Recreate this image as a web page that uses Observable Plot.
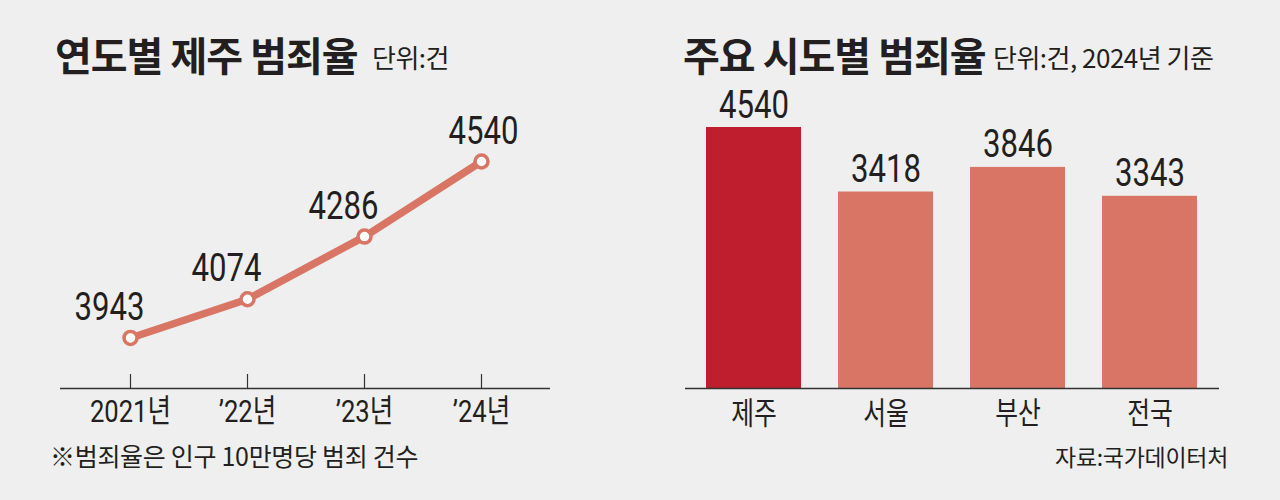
<!DOCTYPE html>
<html>
<head>
<meta charset="utf-8">
<script src="https://cdn.jsdelivr.net/npm/d3@7"></script>
<script src="https://cdn.jsdelivr.net/npm/@observablehq/plot@0.6"></script>
<style>
  html, body { margin: 0; padding: 0; background: #efefef; }
  #wrap { position: relative; width: 1280px; height: 500px; background: #efefef; overflow: hidden;
          font-family: "Noto Sans CJK KR", "Noto Sans", sans-serif; color: #231f20; }
  .title { position: absolute; font-weight: 700; font-size: 40px; line-height: 1; white-space: nowrap; letter-spacing: -1px; }
  .sub { position: absolute; font-weight: 400; font-size: 26px; line-height: 1; white-space: nowrap; letter-spacing: -0.5px; }
  .note { position: absolute; font-weight: 400; font-size: 25px; line-height: 1; white-space: nowrap; letter-spacing: -0.3px; }
  .panel { position: absolute; top: 90px; }
  svg text { fill: #231f20; }
</style>
</head>
<body>
<div id="wrap">
  <div class="title" style="left:55px; top:34px;">연도별 제주 범죄율</div>
  <div class="sub" style="left:372px; top:44px;">단위:건</div>
  <div class="title" style="left:683px; top:34px;">주요 시도별 범죄율</div>
  <div class="sub" style="left:993px; top:44px;">단위:건, 2024년 기준</div>
  <div id="left" class="panel" style="left:0px;"></div>
  <div id="right" class="panel" style="left:640px;"></div>
  <div class="note" style="left:50px; top:443px;">※범죄율은 인구 10만명당 범죄 건수</div>
  <div class="note" style="right:52px; top:445px; font-size:23px;">자료:국가데이터처</div>
</div>
<script>
// ---- data ----
const years = ["2021년", "’22년", "’23년", "’24년"];
const jejuRate = [3943, 4074, 4286, 4540];
const regions = ["제주", "서울", "부산", "전국"];
const regionRate = [4540, 3418, 3846, 3343];
const lineDomain = [3772, 4540];

const salmon = "#d87564";
const crimson = "#be1e2d";
const ink = "#231f20";
const numFont = "Roboto, 'Liberation Sans', sans-serif";
const krFont = "Roboto, 'Noto Sans CJK KR', sans-serif";

const lineData = years.map((y, i) => ({year: y, value: jejuRate[i], i}));
const barData = regions.map((r, i) => ({region: r, value: regionRate[i], i}));

// horizontally condense the text of a mark (reference uses a condensed face)
function condense(svg, label, k) {
  svg.querySelectorAll(`g[aria-label="${label}"] text`).forEach(t => {
    let tr = t.getAttribute("transform");
    if (!tr) {
      const x = +(t.getAttribute("x") || 0), y = +(t.getAttribute("y") || 0);
      t.removeAttribute("x"); t.removeAttribute("y");
      tr = `translate(${x},${y})`;
    }
    t.setAttribute("transform", `${tr} scale(${k},1)`);
  });
}

const numStyle = {lineAnchor: "bottom", fontSize: 38, fontWeight: 400, fontFamily: numFont, fill: ink};

// ---- left: line chart ----
const left = Plot.plot({
  width: 640, height: 345,
  marginLeft: 60, marginRight: 90, marginTop: 71, marginBottom: 47,
  style: {background: "transparent", overflow: "visible"},
  x: {type: "point", domain: years, padding: 0.582, label: null},
  y: {domain: lineDomain, axis: null},
  marks: [
    Plot.ruleY([lineDomain[0]], {stroke: "#333", strokeWidth: 1.5}),
    Plot.ruleX(years, {x: d => d, y1: lineDomain[0], y2: lineDomain[0], insetTop: -14, stroke: "#333", strokeWidth: 1.2}),
    Plot.axisX({tickSize: 0, tickPadding: 11, fontSize: 32, fontFamily: krFont, label: null}),
    Plot.line(lineData, {x: "year", y: "value", stroke: salmon, strokeWidth: 7.5, strokeLinejoin: "round"}),
    Plot.dot(lineData, {x: "year", y: "value", r: 6.5, fill: "white", stroke: salmon, strokeWidth: 3.5}),
    Plot.text(lineData.filter(d => d.i < 3), {x: "year", y: "value", text: d => String(d.value),
      dx: -21, dy: -18, ...numStyle}),
    Plot.text(lineData.filter(d => d.i === 3), {x: "year", y: "value", text: d => String(d.value),
      dx: 2, dy: -18, ...numStyle})
  ]
});
condense(left, "text", 0.82);
condense(left, "x-axis tick label", 0.8);
document.getElementById("left").appendChild(left);

// ---- right: bar chart ----
const right = Plot.plot({
  width: 640, height: 345,
  marginLeft: 45, marginRight: 61, marginTop: 37, marginBottom: 47,
  style: {background: "transparent", overflow: "visible"},
  x: {type: "band", domain: regions, paddingInner: 0.28, paddingOuter: 0.158, label: null},
  y: {domain: [0, regionRate[0]], axis: null},
  marks: [
    Plot.barY(barData, {x: "region", y: "value", fill: d => d.i === 0 ? crimson : salmon}),
    Plot.ruleY([0], {stroke: "#333", strokeWidth: 1.5}),
    Plot.axisX({tickSize: 0, tickPadding: 13, fontSize: 31, fontFamily: "'Noto Sans CJK KR', sans-serif", label: null}),
    Plot.text(barData, {x: "region", y: "value", text: d => String(d.value), dy: -10, ...numStyle})
  ]
});
condense(right, "text", 0.82);
condense(right, "x-axis tick label", 0.8);
document.getElementById("right").appendChild(right);
</script>
</body>
</html>
